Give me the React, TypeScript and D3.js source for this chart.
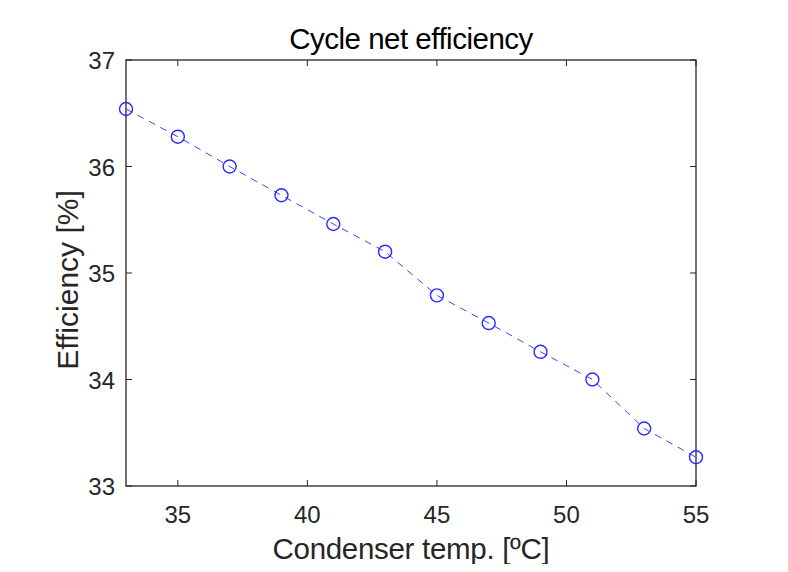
import React, { useEffect, useRef } from 'react';
import * as d3 from 'd3';

const temps = [33, 35, 37, 39, 41, 43, 45, 47, 49, 51, 53, 55];
const efficiency = [36.54, 36.28, 36.0, 35.73, 35.46, 35.2, 34.79, 34.53, 34.26, 34.0, 33.54, 33.27];
const xTicks = [35, 40, 45, 50, 55];
const yTicks = [33, 34, 35, 36, 37];

const App: React.FC = () => {
  const svgRef = useRef<SVGSVGElement | null>(null);

  useEffect(() => {
    const svg = d3.select(svgRef.current);
    svg.selectAll('*').remove();

    const width = 788;
    const height = 572;
    const m = { left: 126, right: 92, top: 60, bottom: 86 };
    const x = d3.scaleLinear().domain([33, 55]).range([m.left, width - m.right]);
    const y = d3.scaleLinear().domain([33, 37]).range([height - m.bottom, m.top]);
    const font = '"Liberation Sans", Arial, sans-serif';
    const axisColor = '#262626';

    svg.append('rect').attr('width', width).attr('height', height).attr('fill', '#fff');

    // ticks inward on all four sides
    const tickLen = 6;
    const g = svg.append('g').attr('stroke', axisColor).attr('stroke-width', 1);
    xTicks.forEach((t) => {
      g.append('line').attr('x1', x(t)).attr('x2', x(t)).attr('y1', y(33)).attr('y2', y(33) - tickLen);
      g.append('line').attr('x1', x(t)).attr('x2', x(t)).attr('y1', y(37)).attr('y2', y(37) + tickLen);
    });
    yTicks.forEach((t) => {
      g.append('line').attr('x1', x(33)).attr('x2', x(33) + tickLen).attr('y1', y(t)).attr('y2', y(t));
      g.append('line').attr('x1', x(55)).attr('x2', x(55) - tickLen).attr('y1', y(t)).attr('y2', y(t));
    });

    svg.append('rect')
      .attr('x', x(33)).attr('y', y(37))
      .attr('width', x(55) - x(33)).attr('height', y(33) - y(37))
      .attr('fill', 'none').attr('stroke', axisColor).attr('stroke-width', 1.3);

    svg.selectAll('.xt').data(xTicks).enter().append('text')
      .attr('x', (d) => x(d)).attr('y', y(33) + 37)
      .attr('text-anchor', 'middle').attr('font-family', font).attr('font-size', 24)
      .attr('fill', axisColor).text((d) => d);

    svg.selectAll('.yt').data(yTicks).enter().append('text')
      .attr('x', x(33) - 11).attr('y', (d) => y(d) + 9)
      .attr('text-anchor', 'end').attr('font-family', font).attr('font-size', 24)
      .attr('fill', axisColor).text((d) => d);

    // data line + markers
    const pts = temps.map((t, i) => [t, efficiency[i]] as [number, number]);
    const line = d3.line<[number, number]>().x((d) => x(d[0])).y((d) => y(d[1]));
    svg.append('path').datum(pts)
      .attr('d', line).attr('fill', 'none')
      .attr('stroke', '#4040ff').attr('stroke-width', 1).attr('stroke-dasharray', '7,6');
    svg.selectAll('.pt').data(pts).enter().append('circle')
      .attr('cx', (d) => x(d[0])).attr('cy', (d) => y(d[1])).attr('r', 6.5)
      .attr('fill', 'none').attr('stroke', '#2a2aff').attr('stroke-width', 1.4);

    svg.append('text')
      .attr('x', (x(33) + x(55)) / 2).attr('y', 49)
      .attr('text-anchor', 'middle').attr('font-family', font).attr('font-size', 29.5)
      .attr('letter-spacing', -0.5)
      .attr('fill', '#000').text('Cycle net efficiency');

    svg.append('text')
      .attr('x', (x(33) + x(55)) / 2).attr('y', 559)
      .attr('text-anchor', 'middle').attr('font-family', font).attr('font-size', 29.5)
      .attr('letter-spacing', -0.3)
      .attr('fill', axisColor).text('Condenser temp. [ºC]');

    svg.append('text')
      .attr('transform', `translate(78,280) rotate(-90)`)
      .attr('text-anchor', 'middle').attr('font-family', font).attr('font-size', 30)
      .attr('fill', axisColor).text('Efficiency [%]');
  }, []);

  return <svg ref={svgRef} width={788} height={572} style={{ display: 'block', margin: -8 }}></svg>;
};

export default App;
